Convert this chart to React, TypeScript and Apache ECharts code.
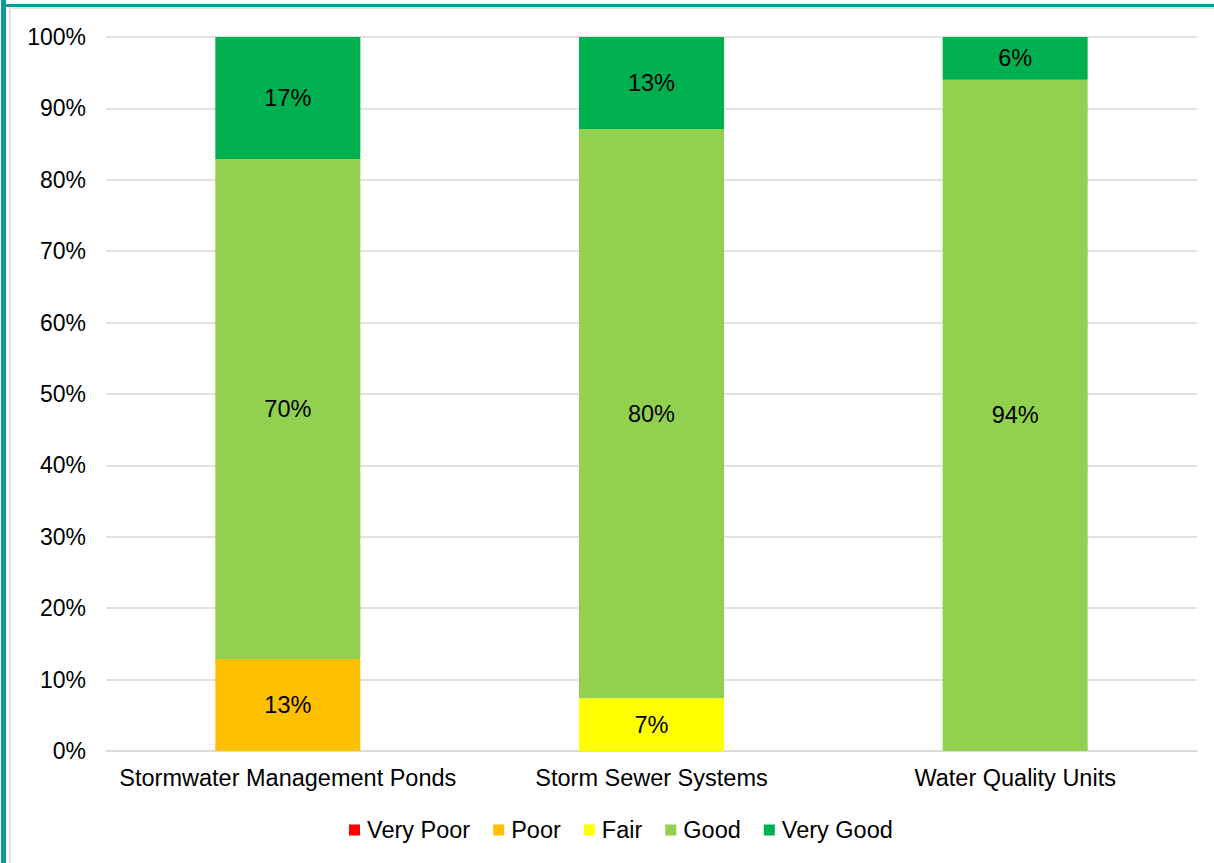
import React, { useEffect, useRef } from "react";
import * as echarts from "echarts";

const categories = ["Stormwater Management Ponds", "Storm Sewer Systems", "Water Quality Units"];
const seriesNames = ["Very Poor", "Poor", "Fair", "Good", "Very Good"];
const veryPoor: (number | null)[] = [null, null, null];
const poor: (number | null)[] = [12.9, null, null];
const fair: (number | null)[] = [null, 7.4, null];
const good: (number | null)[] = [70.0, 79.7, 94.0];
const veryGood: (number | null)[] = [17.1, 12.9, 6.0];
const colors = ["#FF0000", "#FFC000", "#FFFF00", "#92D050", "#00B050"];
const yTicks = [0, 10, 20, 30, 40, 50, 60, 70, 80, 90, 100];

const FONT = "Arial, 'Liberation Sans', sans-serif";

export default function App() {
  const ref = useRef<HTMLDivElement>(null);
  useEffect(() => {
    if (!ref.current) return;
    const chart = echarts.init(ref.current, null, { renderer: "svg" });
    const dataSets = [veryPoor, poor, fair, good, veryGood];
    chart.setOption({
      animation: false,
      textStyle: { fontFamily: FONT },
      grid: { left: 98, right: 17, top: 29, bottom: 112, containLabel: false },
      legend: {
        data: seriesNames,
        bottom: 16,
        left: 336,
        itemWidth: 11,
        itemHeight: 11,
        itemGap: 23,
        icon: "rect",
        textStyle: { fontSize: 23.5, color: "#000", fontFamily: FONT, padding: [0, 0, 0, 2] },
      },
      xAxis: {
        type: "category",
        data: categories,
        axisTick: { show: false },
        axisLine: { lineStyle: { color: "#D9D9D9", width: 1.5 } },
        axisLabel: { fontSize: 23.5, color: "#000", margin: 15, fontFamily: FONT, interval: 0 },
      },
      yAxis: {
        type: "value",
        min: yTicks[0],
        max: yTicks[yTicks.length - 1],
        interval: 10,
        axisLabel: { fontSize: 23, color: "#000", margin: 20, formatter: "{value}%", fontFamily: FONT },
        splitLine: { lineStyle: { color: "#D9D9D9", width: 1.5 } },
        axisLine: { show: false },
        axisTick: { show: false },
      },
      series: seriesNames.map((name, i) => ({
        name,
        type: "bar",
        stack: "total",
        barWidth: 145,
        data: dataSets[i],
        itemStyle: { color: colors[i] },
        label: {
          show: true,
          position: "inside",
          fontSize: 23.5,
          color: "#000",
          fontFamily: FONT,
          formatter: (p: any) => (p.value == null ? "" : Math.round(p.value) + "%"),
        },
      })),
    });
    return () => chart.dispose();
  }, []);
  return (
    <div style={{ position: "absolute", left: 0, top: 0, width: 1214, height: 863, background: "#fff", overflow: "hidden" }}>
      <div style={{ position: "absolute", left: 1, top: 0, width: 5, height: 863, background: "#0E9A96" }} />
      <div style={{ position: "absolute", left: 1, top: 4, width: 1213, height: 3, background: "#0E9A96" }} />
      <div style={{ position: "absolute", left: 9, top: 7, width: 2, height: 856, background: "#E3E3E3" }} />
      <div style={{ position: "absolute", left: 9, top: 7, width: 1205, height: 2, background: "#E3E3E3" }} />
      <div ref={ref} style={{ position: "absolute", left: 8, top: 8, width: 1206, height: 855 }} />
    </div>
  );
}
